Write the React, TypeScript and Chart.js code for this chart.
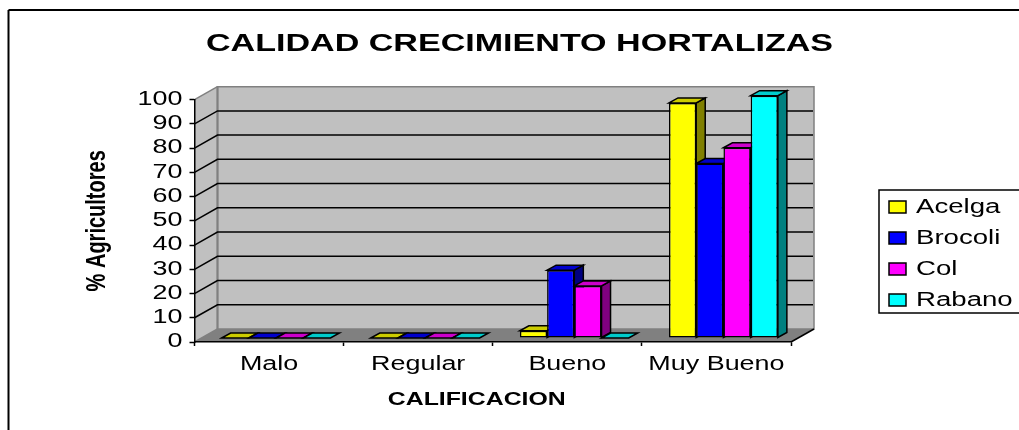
import React, { useEffect, useRef } from "react";
import { Chart, registerables } from "chart.js";

Chart.register(...registerables);

const categories = ["Malo", "Regular", "Bueno", "Muy Bueno"];
const acelga = [0, 0, 3, 97];
const brocoli = [0, 0, 28, 72];
const col = [0, 0, 21.5, 78.5];
const rabano = [0, 0, 0, 100];
const seriesNames = ["Acelga", "Brocoli", "Col", "Rabano"];
const seriesValues = [acelga, brocoli, col, rabano];
const frontColors = ["#FFFF00", "#0000FF", "#FF00FF", "#00FFFF"];
const topColors = ["#CCCC00", "#0000CC", "#CC00CC", "#00CCCC"];
const sideColors = ["#808000", "#000080", "#800080", "#008080"];

const TEXT_STRETCH = 1.38;
const FONT = "'Liberation Sans', Arial, sans-serif";
const DEPTH_X = 23;
const DEPTH_Y = 13;
const BAR_SHIFT_X = 7;
const BAR_SHIFT_Y = -4;
const BAR_DEPTH_X = 9;
const BAR_DEPTH_Y = 5;
const textNudge: Record<string, number> = { CALIFICACION: -16 };

function poly(ctx: any, pts: number[][], fill: string | null, stroke: string | null, lw = 1.5) {
  ctx.beginPath();
  pts.forEach((p, i) => (i ? ctx.lineTo(p[0], p[1]) : ctx.moveTo(p[0], p[1])));
  ctx.closePath();
  if (fill) {
    ctx.fillStyle = fill;
    ctx.fill();
  }
  if (stroke) {
    ctx.strokeStyle = stroke;
    ctx.lineWidth = lw;
    ctx.lineJoin = "miter";
    ctx.stroke();
  }
}

function line(ctx: any, x1: number, y1: number, x2: number, y2: number, color: string, lw = 1.5) {
  ctx.beginPath();
  ctx.moveTo(x1, y1);
  ctx.lineTo(x2, y2);
  ctx.strokeStyle = color;
  ctx.lineWidth = lw;
  ctx.stroke();
}

const scenePlugin = {
  id: "scene3d",
  beforeLayout(chart: any) {
    const lg = chart.legend;
    if (lg && !lg.__fitPatched) {
      const orig = lg.fit;
      lg.fit = function () {
        orig.call(this);
        this.width = 228;
      };
      lg.__fitPatched = true;
    }
  },
  afterLayout(chart: any) {
    const lg = chart.legend;
    lg.left = 878;
    lg.right = 1019;
    lg.top = 186;
    lg.bottom = 330;
    const tb = chart.titleBlock;
    tb.left = 20;
    tb.right = 1019;
  },
  beforeDraw(chart: any) {
    const ctx = chart.ctx;
    const { x, y } = chart.scales;
    const l = x.left;
    const r = x.right;
    const b = y.getPixelForValue(0);
    const t = y.getPixelForValue(100);
    ctx.save();
    // outer frame
    line(ctx, 8.5, 10, 1019, 10, "#000", 2);
    line(ctx, 8.5, 10, 8.5, 430, "#000", 2);
    // legend frame
    ctx.strokeStyle = "#000";
    ctx.lineWidth = 1.5;
    ctx.beginPath();
    ctx.moveTo(1019, 190);
    ctx.lineTo(879, 190);
    ctx.lineTo(879, 313);
    ctx.lineTo(1019, 313);
    ctx.stroke();
    // walls and floor
    poly(ctx, [[l, t], [l + DEPTH_X, t - DEPTH_Y], [l + DEPTH_X, b - DEPTH_Y], [l, b]], "#C0C0C0", null);
    poly(ctx, [[l + DEPTH_X, t - DEPTH_Y], [r + DEPTH_X, t - DEPTH_Y], [r + DEPTH_X, b - DEPTH_Y], [l + DEPTH_X, b - DEPTH_Y]], "#C0C0C0", "#808080");
    poly(ctx, [[l, b], [l + DEPTH_X, b - DEPTH_Y], [r + DEPTH_X, b - DEPTH_Y], [r, b]], "#808080", null);
    line(ctx, r, b, r + DEPTH_X, b - DEPTH_Y, "#000");
    line(ctx, l, b, l + DEPTH_X, b - DEPTH_Y, "#808080");
    line(ctx, l, t, l + DEPTH_X, t - DEPTH_Y, "#808080");
    line(ctx, l + DEPTH_X, t - DEPTH_Y, l + DEPTH_X, b - DEPTH_Y, "#808080", 2);
    // gridlines from the axis ticks
    y.ticks.forEach((tick: any) => {
      if (tick.value <= 0 || tick.value >= 100) return;
      const py = y.getPixelForValue(tick.value);
      ctx.beginPath();
      ctx.moveTo(l, py);
      ctx.lineTo(l + DEPTH_X, py - DEPTH_Y);
      ctx.lineTo(r + DEPTH_X - 1, py - DEPTH_Y);
      ctx.strokeStyle = "#000";
      ctx.lineWidth = 1.5;
      ctx.stroke();
    });
    ctx.restore();
  },
  beforeDatasetsDraw(chart: any) {
    const ctx = chart.ctx;
    ctx.save();
    ctx.translate(BAR_SHIFT_X, BAR_SHIFT_Y);
    // side and top faces, taken from each bar element
    categories.forEach((_c, ci) => {
      seriesValues.forEach((_v, si) => {
        const bar = chart.getDatasetMeta(si).data[ci];
        const x0 = bar.x - bar.width / 2;
        const x1 = bar.x + bar.width / 2;
        const yt = bar.y;
        const yb = bar.base;
        if (yb - yt > 0.5) {
          poly(ctx, [[x1, yt], [x1 + BAR_DEPTH_X, yt - BAR_DEPTH_Y], [x1 + BAR_DEPTH_X, yb - BAR_DEPTH_Y], [x1, yb]], sideColors[si], "#000");
        }
        poly(ctx, [[x0, yt], [x0 + BAR_DEPTH_X, yt - BAR_DEPTH_Y], [x1 + BAR_DEPTH_X, yt - BAR_DEPTH_Y], [x1, yt]], topColors[si], "#000");
      });
    });
  },
  afterDatasetsDraw(chart: any) {
    chart.ctx.restore();
  },
};

export default function App() {
  const ref = useRef<HTMLCanvasElement | null>(null);

  useEffect(() => {
    const canvas = ref.current as HTMLCanvasElement;
    const ctx: any = canvas.getContext("2d");
    // The reference picture is stretched sideways, text included.
    const rawFillText = ctx.fillText.bind(ctx);
    ctx.fillText = (text: string, tx: number, ty: number, maxWidth?: number) => {
      const m = ctx.getTransform();
      const nudge = textNudge[text] || 0;
      const px = m.a * tx + m.c * ty + m.e;
      const py = m.b * tx + m.d * ty + m.f;
      const next = new DOMMatrix()
        .translate(px + nudge, py)
        .scale(TEXT_STRETCH, 1)
        .translate(-px, -py)
        .multiply(m);
      ctx.save();
      ctx.setTransform(next);
      rawFillText(text, tx, ty);
      ctx.restore();
    };

    const chart = new Chart(ctx, {
      type: "bar",
      data: {
        labels: categories,
        datasets: seriesNames.map((name, i) => ({
          label: name,
          data: seriesValues[i],
          backgroundColor: frontColors[i],
          borderColor: "#000",
          borderWidth: 1.5,
          borderSkipped: false,
          categoryPercentage: 0.73,
          barPercentage: 1,
        })),
      },
      options: {
        responsive: false,
        animation: false,
        events: [],
        layout: { padding: 0 },
        font: { family: FONT },
        scales: {
          x: {
            afterFit(s: any) {
              s.height = 88;
            },
            grid: { drawOnChartArea: false, tickColor: "#000", tickWidth: 1.5, tickLength: 4 },
            border: { color: "#000", width: 1.5 },
            ticks: { color: "#000", font: { family: FONT, size: 19.5 }, maxRotation: 0, autoSkip: false, padding: 7 },
            title: {
              display: true,
              text: "CALIFICACION",
              color: "#000",
              font: { family: FONT, size: 18, weight: "bold" },
              padding: { top: 0, bottom: 19 },
            },
          },
          y: {
            min: 0,
            max: 100,
            afterFit(s: any) {
              s.width = 194.5;
            },
            grid: { drawOnChartArea: false, tickColor: "#000", tickWidth: 1.5, tickLength: 5 },
            border: { color: "#000", width: 1.5 },
            ticks: { stepSize: 10, autoSkip: false, color: "#000", font: { family: FONT, size: 19.5 }, padding: 7 },
            title: {
              display: true,
              text: "% Agricultores",
              color: "#000",
              font: { family: FONT, size: 20, weight: "bold" },
              padding: { top: 85, bottom: 0 },
            },
          },
        },
        plugins: {
          title: {
            display: true,
            text: "CALIDAD CRECIMIENTO HORTALIZAS",
            color: "#000",
            font: { family: FONT, size: 24.7, weight: "bold" },
            padding: { top: 29, bottom: 41 },
          },
          legend: {
            position: "right",
            align: "start",
            labels: {
              color: "#000",
              boxWidth: 17,
              boxHeight: 12,
              padding: 11,
              font: { family: FONT, size: 20 },
            },
          },
          tooltip: { enabled: false },
        },
      } as any,
      plugins: [scenePlugin as any],
    });
    return () => chart.destroy();
  }, []);

  return (
    <canvas
      ref={ref}
      width={1019}
      height={430}
      style={{ position: "fixed", left: 0, top: 0, display: "block" }}
    />
  );
}
